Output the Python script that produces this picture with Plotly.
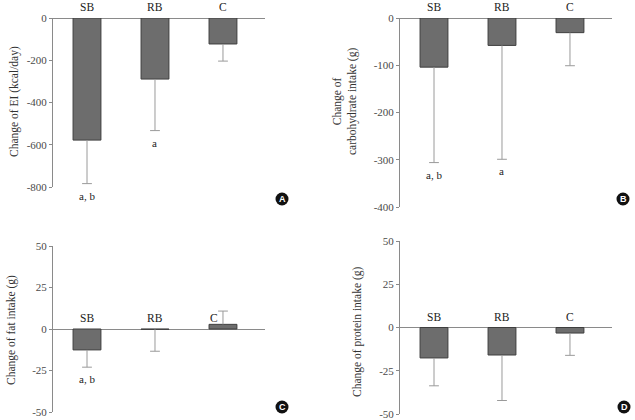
import plotly.graph_objects as go

categories = ["SB", "RB", "C"]

ei_mean = [-578, -289, -123]
ei_sd = [206, 244, 81]
ei_sig = ["a, b", "a", ""]

carb_mean = [-104, -58, -31]
carb_sd = [202, 241, 70]
carb_sig = ["a, b", "a", ""]

fat_mean = [-12.6, -0.2, 2.8]
fat_sd = [10.4, 13.2, 8.0]
fat_sig = ["a, b", "", ""]

prot_mean = [-17.6, -15.9, -3.2]
prot_sd = [16.1, 26.3, 12.9]
prot_sig = ["", "", ""]

panels = [
    dict(mean=ei_mean, sd=ei_sd, sig=ei_sig, rng=[-800, 0], ticks=[0, -200, -400, -600, -800],
         title="Change of EI (kcal/day)", letter="A",
         xd=[53, 265], yd=[18, 187], tx=14, ty=102, badge=(282, 199)),
    dict(mean=carb_mean, sd=carb_sd, sig=carb_sig, rng=[-400, 0], ticks=[0, -100, -200, -300, -400],
         title="Change of<br>carbohydrate intake (g)", letter="B",
         xd=[400, 612], yd=[18, 207], tx=345, ty=102, badge=(623, 199)),
    dict(mean=fat_mean, sd=fat_sd, sig=fat_sig, rng=[-50, 50], ticks=[50, 25, 0, -25, -50],
         title="Change of fat intake (g)", letter="C",
         xd=[53, 265], yd=[246, 412], tx=11, ty=330, badge=(282, 407)),
    dict(mean=prot_mean, sd=prot_sd, sig=prot_sig, rng=[-50, 50], ticks=[50, 25, 0, -25, -50],
         title="Change of protein intake (g)", letter="D",
         xd=[400, 612], yd=[241, 414], tx=357, ty=332, badge=(624, 407)),
]

W, H = 635, 420
FONT = "Liberation Serif"
BAR = "#6d6d6d"
BAR_LINE = "#3e3e3e"
ERR = "#9a9a9a"
AX = "#8a8a8a"

fig = go.Figure()
layout = dict(template="none", width=W, height=H, margin=dict(l=0, r=0, t=0, b=0, autoexpand=False),
              paper_bgcolor="white", plot_bgcolor="white", showlegend=False,
              font=dict(family=FONT, size=11, color="#333"))
annotations = []
shapes = []

for i, p in enumerate(panels):
    n = "" if i == 0 else str(i + 1)
    xa, ya = "x" + n, "y" + n
    fig.add_trace(go.Bar(x=categories, y=p["mean"], xaxis=xa, yaxis=ya, width=0.41,
                         marker=dict(color=BAR, line=dict(color=BAR_LINE, width=1))))
    ex, ey, cx, cy = [], [], [], []
    for c, m, s in zip(categories, p["mean"], p["sd"]):
        end = m + s if m > 0 else m - s
        ex += [c, c, None]
        ey += [m, end, None]
        cx.append(c)
        cy.append(end)
    fig.add_trace(go.Scatter(x=ex, y=ey, xaxis=xa, yaxis=ya, mode="lines",
                             line=dict(color=ERR, width=1), hoverinfo="skip"))
    fig.add_trace(go.Scatter(x=cx, y=cy, xaxis=xa, yaxis=ya, mode="markers",
                             marker=dict(symbol="line-ew", size=7, line=dict(color=ERR, width=1)),
                             hoverinfo="skip"))
    x0, x1 = p["xd"]
    y0, y1 = p["yd"]
    layout["xaxis" + n] = dict(domain=[x0 / W, x1 / W], anchor=ya, type="category",
                               range=[-0.5, 2.618], showticklabels=False, showgrid=False,
                               showline=False, zeroline=False, ticks="", automargin=False)
    layout["yaxis" + n] = dict(domain=[1 - y1 / H, 1 - y0 / H], anchor=xa, range=p["rng"],
                               tickvals=p["ticks"], ticktext=[str(t) for t in p["ticks"]],
                               showgrid=False, showline=True, linecolor=AX, linewidth=1,
                               ticks="outside", ticklen=3, tickcolor=AX, automargin=False,
                               zeroline=True, zerolinecolor=AX, zerolinewidth=1,
                               tickfont=dict(family=FONT, size=11, color="#4a4a4a"))
    for c, m, s, sg in zip(categories, p["mean"], p["sd"], p["sig"]):
        annotations.append(dict(x=c, y=0, xref=xa, yref=ya, text=c, showarrow=False,
                                yanchor="middle", yshift=11, xshift=-9 if m > 0 else 0,
                                font=dict(family=FONT, size=11.5, color="#222")))
        if sg:
            end = m + s if m > 0 else m - s
            annotations.append(dict(x=c, y=end, xref=xa, yref=ya, text=sg, showarrow=False,
                                    yanchor="middle", yshift=-12,
                                    font=dict(family=FONT, size=11, color="#222")))
    annotations.append(dict(x=p["tx"] / W, y=1 - p["ty"] / H,
                            xref="paper", yref="paper", text=p["title"], textangle=-90,
                            showarrow=False, xanchor="center", yanchor="middle",
                            font=dict(family=FONT, size=11.5, color="#333")))
    bx, by = p["badge"]
    shapes.append(dict(type="circle", xref="paper", yref="paper",
                       x0=(bx - 6.5) / W, x1=(bx + 6.5) / W,
                       y0=1 - (by + 6.5) / H, y1=1 - (by - 6.5) / H,
                       fillcolor="#111", line=dict(width=0)))
    annotations.append(dict(x=bx / W, y=1 - by / H, xref="paper", yref="paper",
                            text="<b>" + p["letter"] + "</b>", showarrow=False,
                            xanchor="center", yanchor="middle",
                            font=dict(family="Liberation Sans", size=9, color="white")))

layout["annotations"] = annotations
layout["shapes"] = shapes
fig.update_layout(**layout)
fig.write_html("out.html", config={"displayModeBar": False},
               post_script="document.body.style.margin='0px';document.body.style.overflow='hidden';")
